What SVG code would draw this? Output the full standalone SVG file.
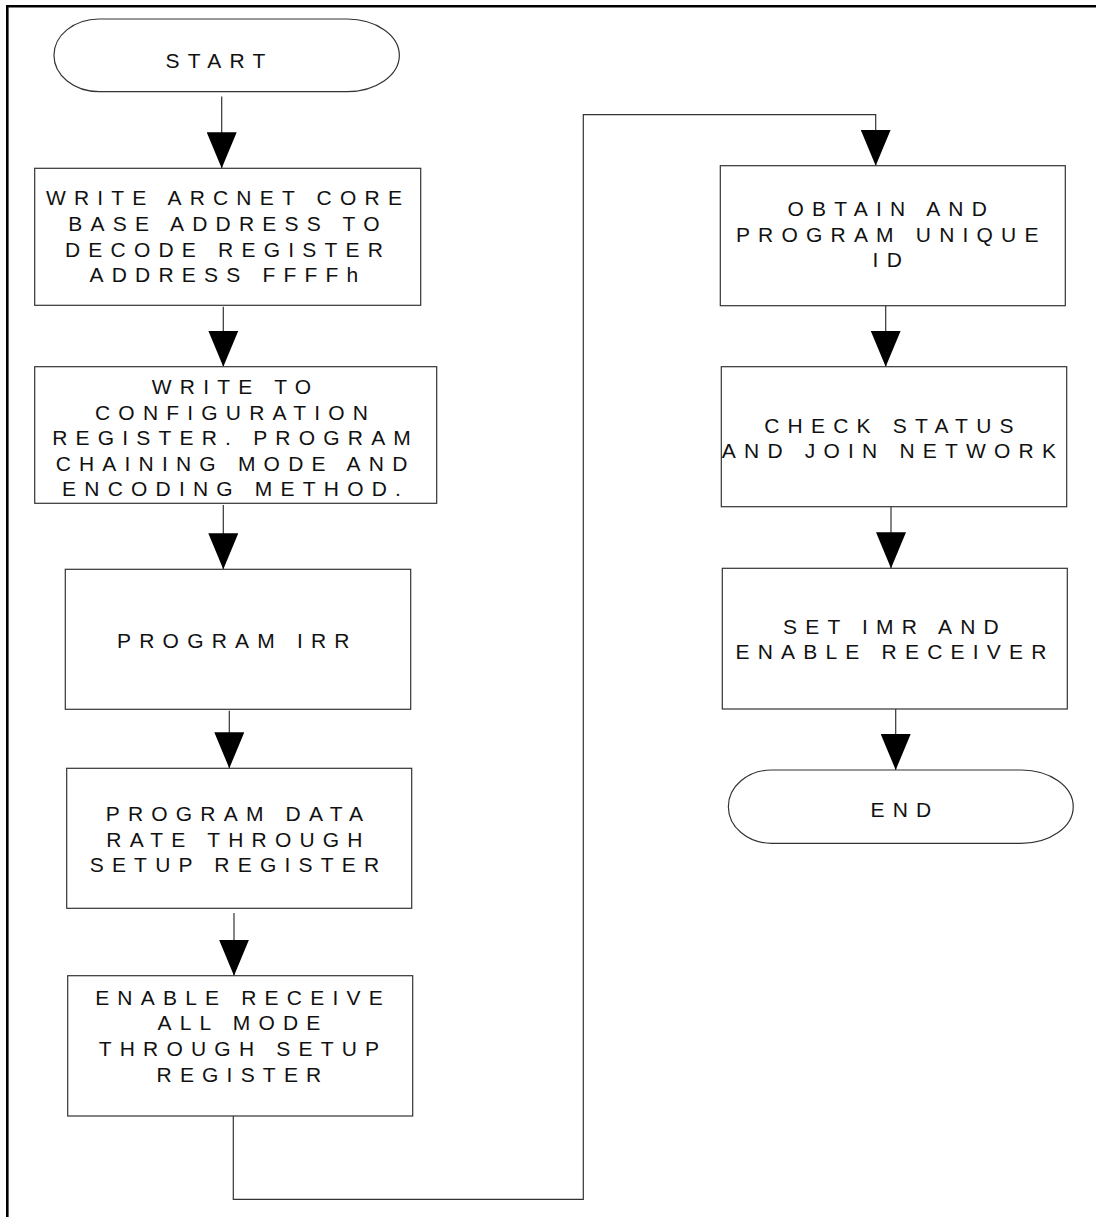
<svg xmlns="http://www.w3.org/2000/svg" width="1096" height="1217" viewBox="0 0 1096 1217">
<style>
.box{fill:#fff;stroke:#333;stroke-width:1.2}
.term{fill:#fff;stroke:#333;stroke-width:1.2}
.lbl{font-family:"Liberation Sans",Arial,sans-serif;font-size:21px;letter-spacing:8.2px;fill:#111;text-anchor:middle}
.con{fill:none;stroke:#333;stroke-width:1.2}
.frame{fill:none;stroke:#000;stroke-width:2.6}
</style>
<defs>
<marker id="ah" viewBox="0 0 36 30" refX="36" refY="15" markerWidth="36" markerHeight="30" markerUnits="userSpaceOnUse" orient="auto">
<path d="M0,0 L36,15 L0,30 z" fill="#000"/>
</marker>
</defs>
<rect width="1096" height="1217" fill="#fff"/>
<path class="frame" d="M7.3,1217 V6.2 H1096"/>

<g id="connectors">
<path class="con" marker-end="url(#ah)" d="M221.7,96.5 V168.3"/>
<path class="con" marker-end="url(#ah)" d="M223.3,306.7 V366.7"/>
<path class="con" marker-end="url(#ah)" d="M223.3,505 V569.3"/>
<path class="con" marker-end="url(#ah)" d="M229.3,710.7 V768.3"/>
<path class="con" marker-end="url(#ah)" d="M234,913 V975.7"/>
<path class="con" marker-end="url(#ah)" d="M233.3,1116 V1199.3 H583.3 V114.7 H875.7 V165.7"/>
<path class="con" marker-end="url(#ah)" d="M885.7,305.7 V366.7"/>
<path class="con" marker-end="url(#ah)" d="M891,506.7 V568.3"/>
<path class="con" marker-end="url(#ah)" d="M895.7,709 V770"/>
</g>

<g id="start">
<path class="term" d="M99,19 H347 A52.3,36.3 0 0 1 347,91.7 H99 A45,36.3 0 0 1 99,19 Z"/>
<text class="lbl" x="219.5" y="68.3">START</text>
</g>

<g id="write-base">
<rect class="box" x="34.7" y="168.3" width="386" height="137"/>
<text class="lbl" x="228" y="205">WRITE ARCNET CORE</text>
<text class="lbl" x="228" y="230.7">BASE ADDRESS TO</text>
<text class="lbl" x="228" y="256.5">DECODE REGISTER</text>
<text class="lbl" x="228" y="282">ADDRESS FFFFh</text>
</g>

<g id="write-config">
<rect class="box" x="34.7" y="366.7" width="402" height="136.6"/>
<text class="lbl" x="235.6" y="394.3">WRITE TO</text>
<text class="lbl" x="235.6" y="420">CONFIGURATION</text>
<text class="lbl" x="235.6" y="445.3">REGISTER. PROGRAM</text>
<text class="lbl" x="235.6" y="470.7">CHAINING MODE AND</text>
<text class="lbl" x="235.6" y="496">ENCODING METHOD.</text>
</g>

<g id="program-irr">
<rect class="box" x="65.3" y="569.3" width="345.4" height="140"/>
<text class="lbl" x="237.4" y="648.3">PROGRAM IRR</text>
</g>

<g id="program-data-rate">
<rect class="box" x="66.7" y="768.3" width="345" height="140"/>
<text class="lbl" x="238.5" y="821">PROGRAM DATA</text>
<text class="lbl" x="238.5" y="846.7">RATE THROUGH</text>
<text class="lbl" x="238.5" y="872.3">SETUP REGISTER</text>
</g>

<g id="enable-receive-all">
<rect class="box" x="67.7" y="975.7" width="345" height="140.3"/>
<text class="lbl" x="243" y="1005">ENABLE RECEIVE</text>
<text class="lbl" x="243" y="1030.3">ALL MODE</text>
<text class="lbl" x="243" y="1056">THROUGH SETUP</text>
<text class="lbl" x="243" y="1081.7">REGISTER</text>
</g>

<g id="obtain-id">
<rect class="box" x="720.3" y="165.7" width="345" height="140"/>
<text class="lbl" x="891.3" y="216">OBTAIN AND</text>
<text class="lbl" x="891.3" y="241.7">PROGRAM UNIQUE</text>
<text class="lbl" x="891.3" y="266.7">ID</text>
</g>

<g id="check-status">
<rect class="box" x="721.3" y="366.7" width="345.4" height="140"/>
<text class="lbl" x="893" y="433.3">CHECK STATUS</text>
<text class="lbl" x="893" y="458.3">AND JOIN NETWORK</text>
</g>

<g id="set-imr">
<rect class="box" x="722.3" y="568.3" width="345" height="140.7"/>
<text class="lbl" x="895" y="634">SET IMR AND</text>
<text class="lbl" x="895" y="659.3">ENABLE RECEIVER</text>
</g>

<g id="end">
<path class="term" d="M771.5,770 H1021.5 A51.8,36.65 0 0 1 1021.5,843.3 H771.5 A43.2,36.65 0 0 1 771.5,770 Z"/>
<text class="lbl" x="905" y="816.7">END</text>
</g>
</svg>
